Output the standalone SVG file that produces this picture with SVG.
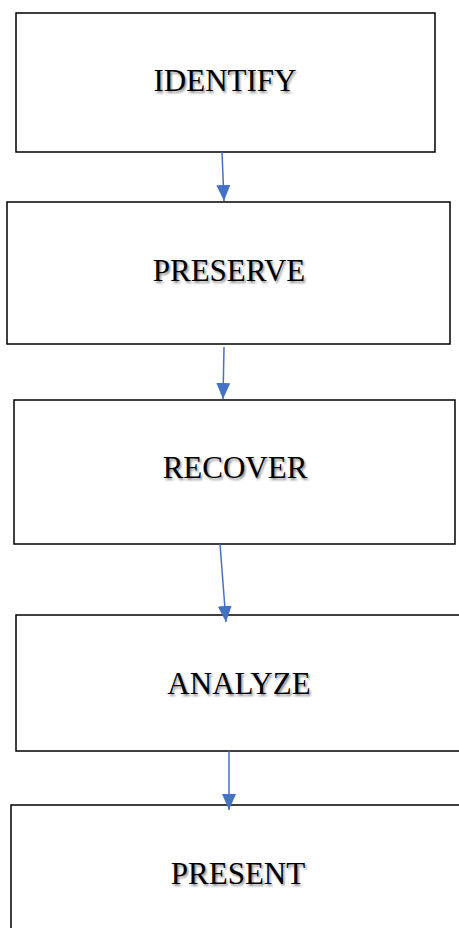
<svg xmlns="http://www.w3.org/2000/svg" width="459" height="928" viewBox="0 0 459 928">
<style>
.box{fill:#fff;stroke:#000;stroke-width:1.5}
.lbl{font-family:"Liberation Serif","Times New Roman",serif;font-size:31px;fill:#000;text-anchor:middle}
.sh{fill:#8a8a8a;filter:url(#blur)}
.con{stroke:#4472C4;stroke-width:1.5;fill:none;marker-end:url(#ah)}
</style>
<defs>
<filter id="blur" x="-10%" y="-30%" width="120%" height="160%"><feGaussianBlur stdDeviation="0.8"/></filter>
<marker id="ah" viewBox="0 0 16 14" refX="16" refY="7" markerWidth="16" markerHeight="14" markerUnits="userSpaceOnUse" orient="auto"><path d="M0,0 L16,7 L0,14 Z" fill="#4472C4"/></marker>
</defs>
<rect width="459" height="928" fill="#fff"/>
<g id="identify">
<rect class="box" x="16" y="13" width="419" height="139"/>
<text class="lbl sh" x="226.5" y="92.5">IDENTIFY</text>
<text class="lbl" x="225" y="91">IDENTIFY</text>
</g>
<g id="preserve">
<rect class="box" x="7" y="202" width="443" height="142"/>
<text class="lbl sh" x="230.5" y="282.5">PRESERVE</text>
<text class="lbl" x="229" y="281">PRESERVE</text>
</g>
<g id="recover">
<rect class="box" x="14" y="400" width="441" height="144"/>
<text class="lbl sh" x="236.5" y="479.5">RECOVER</text>
<text class="lbl" x="235" y="478">RECOVER</text>
</g>
<g id="analyze">
<rect class="box" x="16" y="615" width="460" height="136"/>
<text class="lbl sh" x="240.5" y="695.5">ANALYZE</text>
<text class="lbl" x="239" y="694">ANALYZE</text>
</g>
<g id="present">
<rect class="box" x="11" y="805" width="465" height="140"/>
<text class="lbl sh" x="239.5" y="885.5">PRESENT</text>
<text class="lbl" x="238" y="884">PRESENT</text>
</g>
<g id="connectors">
<path class="con" d="M222,152 L224,201"/>
<path class="con" d="M224,347 L223,399"/>
<path class="con" d="M220,544 L226,622"/>
<path class="con" d="M229,751 L229,810"/>
</g>
</svg>
